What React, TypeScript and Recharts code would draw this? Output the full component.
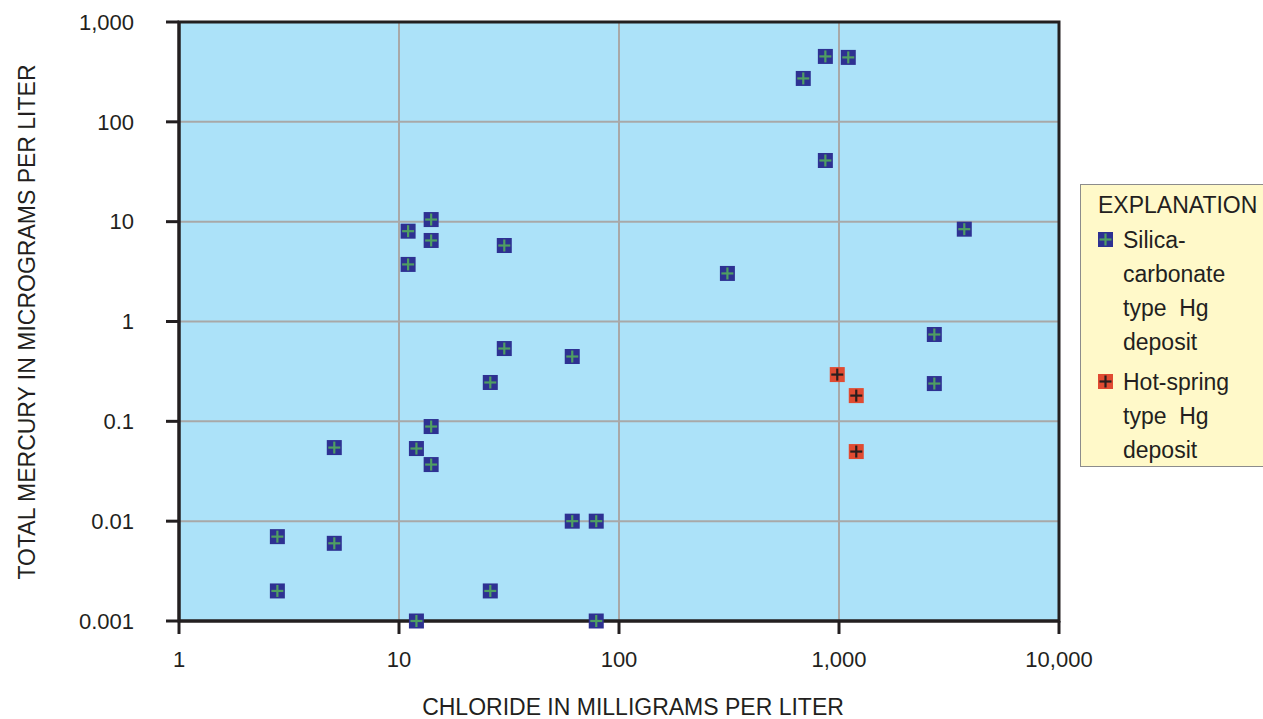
import React from 'react';
import {
  ScatterChart,
  Scatter,
  XAxis,
  YAxis,
  CartesianGrid,
  ReferenceArea,
  Label,
} from 'recharts';

// Silica-carbonate type Hg deposit samples
const silicaChloride = [
  2.8, 2.8, 5.08, 5.08, 11.0, 11.0, 14.0, 14.0, 12.0, 14.0, 14.0, 12.0, 30.1, 30.1,
  26.0, 26.0, 61.3, 61.3, 78.8, 78.8, 311, 688, 867, 1102, 867, 2712, 2712, 3711,
];
const silicaMercury = [
  0.007, 0.002, 0.0546, 0.006, 8.03, 3.73, 10.5, 6.48, 0.0534, 0.0887, 0.0369, 0.001,
  5.77, 0.536, 0.245, 0.002, 0.446, 0.01, 0.01, 0.001, 3.03, 272, 452, 442, 41.0, 0.741,
  0.239, 8.41,
];

// Hot-spring type Hg deposit samples
const hotSpringChloride = [982, 1198, 1198];
const hotSpringMercury = [0.294, 0.181, 0.0498];

const xTicks = [1, 10, 100, 1000, 10000];
const yTicks = [0.001, 0.01, 0.1, 1, 10, 100, 1000];

const xTitle = 'CHLORIDE IN MILLIGRAMS PER LITER';
const yTitle = 'TOTAL MERCURY IN MICROGRAMS PER LITER';
const legendTitle = 'EXPLANATION';
const silicaLabel = ['Silica-', 'carbonate', 'type  Hg', 'deposit'];
const hotSpringLabel = ['Hot-spring', 'type  Hg', 'deposit'];

const silicaData = silicaChloride.map((x, i) => ({ x, y: silicaMercury[i] }));
const hotSpringData = hotSpringChloride.map((x, i) => ({ x, y: hotSpringMercury[i] }));

const FONT = '"Liberation Sans", Arial, sans-serif';
const DARK = '#231F20';
const BLUE = '#2E3192';
const GREEN = '#4F9E62';
const RED = '#E04B32';
const CROSS_DARK = '#2A1E1E';

const fmt = (v: number) =>
  v.toLocaleString('en-US', { maximumFractionDigits: 3 });

const makeMarker = (fill: string, cross: string) => (props: any) => {
  const { cx, cy } = props;
  if (cx == null || cy == null) return <g />;
  return (
    <g>
      <rect x={cx - 7.5} y={cy - 7.5} width={15} height={15} fill={fill} />
      <line x1={cx - 6} x2={cx + 6} y1={cy} y2={cy} stroke={cross} strokeWidth={2.2} />
      <line x1={cx} x2={cx} y1={cy - 6} y2={cy + 6} stroke={cross} strokeWidth={2.2} />
    </g>
  );
};

const SilicaMarker = makeMarker(BLUE, GREEN);
const HotSpringMarker = makeMarker(RED, CROSS_DARK);

const YTitle = () => (
  <text
    x={27}
    y={322}
    transform="rotate(-90 27 322)"
    textAnchor="middle"
    dominantBaseline="central"
    fontFamily={FONT}
    fontSize={23}
    fill={DARK}
  >
    {yTitle}
  </text>
);

const XTitle = () => (
  <text
    x={633}
    y={707}
    textAnchor="middle"
    dominantBaseline="central"
    fontFamily={FONT}
    fontSize={23}
    fill={DARK}
  >
    {xTitle}
  </text>
);

const LegendSwatch = ({ fill, cross }: { fill: string; cross: string }) => (
  <svg width={15} height={15} style={{ position: 'absolute', left: 0, top: 9 }}>
    <rect x={0} y={0} width={15} height={15} fill={fill} />
    <line x1={1.5} x2={13.5} y1={7.5} y2={7.5} stroke={cross} strokeWidth={2.2} />
    <line x1={7.5} x2={7.5} y1={1.5} y2={13.5} stroke={cross} strokeWidth={2.2} />
  </svg>
);

const LegendEntry = ({ lines, fill, cross }: { lines: string[]; fill: string; cross: string }) => (
  <div style={{ position: 'relative', paddingLeft: 25 }}>
    <LegendSwatch fill={fill} cross={cross} />
    {lines.map((l, i) => (
      <div key={i} style={{ height: 34, lineHeight: '34px', whiteSpace: 'pre' }}>
        {l}
      </div>
    ))}
  </div>
);

export default function App() {
  return (
    <div
      style={{
        position: 'absolute',
        left: 0,
        top: 0,
        width: 1263,
        height: 719,
        overflow: 'hidden',
        background: '#FFFFFF',
      }}
    >
      <ScatterChart
        width={1263}
        height={719}
        margin={{ top: 22, right: 204, bottom: 0, left: 0 }}
      >
        <CartesianGrid
          fill="#ACE2F9"
          fillOpacity={1}
          stroke="#A8A8A8"
          strokeWidth={2}
        />
        <XAxis
          dataKey="x"
          type="number"
          scale="log"
          domain={[1, 10000]}
          ticks={xTicks}
          interval={0}
          height={98}
          tickFormatter={fmt}
          tickSize={13}
          tickMargin={17}
          axisLine={{ stroke: DARK, strokeWidth: 3 }}
          tickLine={{ stroke: DARK, strokeWidth: 3 }}
          tick={{ fill: DARK, fontSize: 22, fontFamily: FONT }}
        >
          <Label content={XTitle} />
        </XAxis>
        <YAxis
          dataKey="y"
          type="number"
          scale="log"
          domain={[0.001, 1000]}
          ticks={yTicks}
          interval={0}
          width={179}
          tickFormatter={fmt}
          tickSize={13}
          tickMargin={32}
          axisLine={{ stroke: DARK, strokeWidth: 3 }}
          tickLine={{ stroke: DARK, strokeWidth: 3 }}
          tick={{ fill: DARK, fontSize: 22, fontFamily: FONT }}
        >
          <Label content={YTitle} />
        </YAxis>
        <ReferenceArea
          x1={1}
          x2={10000}
          y1={0.001}
          y2={1000}
          fill="none"
          fillOpacity={0}
          stroke={DARK}
          strokeWidth={3}
        />
        <Scatter
          name="Silica-carbonate type Hg deposit"
          data={silicaData}
          shape={SilicaMarker}
          isAnimationActive={false}
        />
        <Scatter
          name="Hot-spring type Hg deposit"
          data={hotSpringData}
          shape={HotSpringMarker}
          isAnimationActive={false}
        />
      </ScatterChart>
      <div
        style={{
          position: 'absolute',
          left: 1080,
          top: 184,
          width: 200,
          height: 283,
          background: '#FFF9C9',
          border: '1px solid #8C8C8C',
          boxSizing: 'border-box',
          fontFamily: FONT,
          fontSize: 23,
          color: DARK,
          paddingLeft: 17,
          paddingTop: 2,
        }}
      >
        <div style={{ height: 36, lineHeight: '36px', whiteSpace: 'nowrap' }}>{legendTitle}</div>
        <LegendEntry lines={silicaLabel} fill={BLUE} cross={GREEN} />
        <div style={{ height: 6 }} />
        <LegendEntry lines={hotSpringLabel} fill={RED} cross={CROSS_DARK} />
      </div>
    </div>
  );
}
